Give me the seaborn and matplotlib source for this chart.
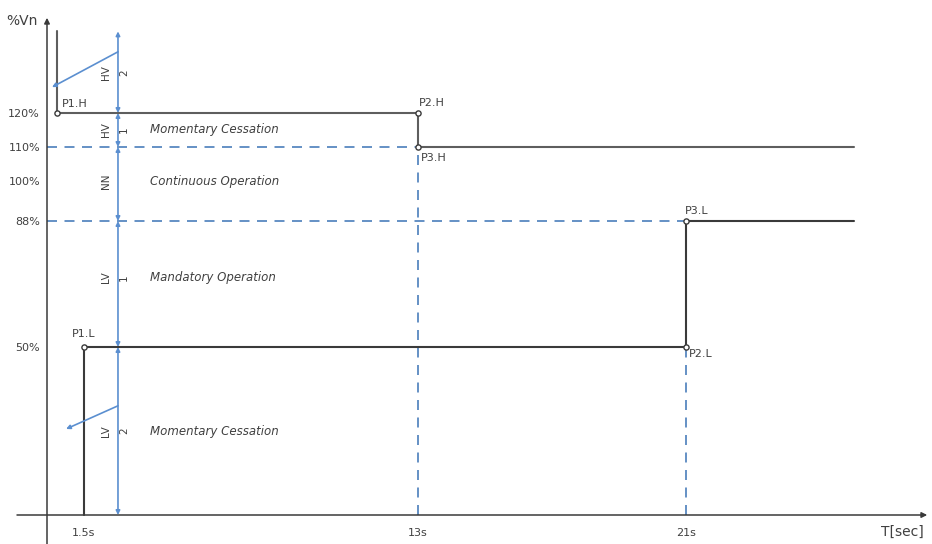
import numpy as np
import matplotlib
matplotlib.use('Agg')
import matplotlib.pyplot as plt
import seaborn as sns

# ---------------- data ----------------
TIME_TICKS = [1.5, 13, 21]
TIME_LABELS = ['1.5s', '13s', '21s']
V_TICKS = [120, 110, 100, 88, 50]
V_LABELS = ['120%', '110%', '100%', '88%', '50%']

HIGH_T = [0.16, 0.16, 13, 13, 26]
HIGH_V = [144, 120, 120, 110, 110]
LOW_T = [1.5, 1.5, 21, 21, 26]
LOW_V = [0, 50, 50, 88, 88]

POINT_NAMES = ['P1.H', 'P2.H', 'P3.H', 'P1.L', 'P2.L', 'P3.L']
POINT_T = [0.16, 13, 13, 1.5, 21, 21]
POINT_V = [120, 120, 110, 50, 50, 88]

GUIDE_LEVELS = [110, 88]
GUIDE_LEVEL_ENDS = [14, 21]
GUIDE_TIMES = [13, 21]
GUIDE_TIME_TOPS = [110, 50]

BAND_EDGES = [0, 50, 88, 110, 120, 144]
BAND_CODES = ['LV', 'LV', 'NN', 'HV', 'HV']
BAND_NUMS = ['2', '1', '', '1', '2']
BAND_LABEL_V = [25, 71, 100, 115, 132]
ZONE_TEXT = ['Momentary Cessation', 'Mandatory Operation',
             'Continuous Operation', 'Momentary Cessation', '']

DIAG_FROM_T = [2.67, 2.67]
DIAG_FROM_V = [138, 32.5]
DIAG_TO_T = [0.08, 0.61]
DIAG_TO_V = [127.6, 25.6]

# ---------------- layout ----------------
X_KNOTS = [0, 0.16, 1.5, 13, 21]
X_PIX = [47, 57, 84, 418, 686]
Y_KNOTS = [0, 50, 88, 100, 110, 120]
Y_PIX = [515, 347, 221, 181, 147, 113]
W, H = 932, 544
BAND_T = 2.67
YAXIS_TOP, YAXIS_BOTTOM = 148, -9
XAXIS_LEFT, XAXIS_RIGHT = -0.48, 28.2
POINT_OFFSETS = [(5, 9), (1, 10), (3, -11), (-12, 13), (3, -7), (-1, 10)]

HIGH_COLOR = '#5e5e5e'
LOW_COLOR = '#3a3a3a'
AXIS_COLOR = '#3a3a3a'
TEXT = '#404040'
BLUE_DASH = '#4a7ebb'
BLUE = '#5b8fd0'


def piecewise(knots, pix):
    k = np.asarray(knots, float)
    p = np.asarray(pix, float)
    s0 = (p[1] - p[0]) / (k[1] - k[0])
    s1 = (p[-1] - p[-2]) / (k[-1] - k[-2])

    def fwd(v):
        v = np.asarray(v, float)
        out = np.interp(v, k, p)
        out = np.where(v < k[0], p[0] + (v - k[0]) * s0, out)
        out = np.where(v > k[-1], p[-1] + (v - k[-1]) * s1, out)
        return out

    def inv(u):
        u = np.asarray(u, float)
        out = np.interp(u, p, k)
        out = np.where(u < p[0], k[0] + (u - p[0]) / s0, out)
        out = np.where(u > p[-1], k[-1] + (u - p[-1]) / s1, out)
        return out
    return fwd, inv


sns.set_theme(style='white')
plt.rcParams['font.family'] = ['DejaVu Sans']

fig = plt.figure(figsize=(W / 100, H / 100), dpi=100)
ax = fig.add_axes([0, 0, 1, 1])

# dashed guides
for lv, te in zip(GUIDE_LEVELS, GUIDE_LEVEL_ENDS):
    ax.plot([0, te], [lv, lv], color=BLUE_DASH, lw=1.2, ls=(0, (6, 4.5)),
            zorder=1)
for t, vt in zip(GUIDE_TIMES, GUIDE_TIME_TOPS):
    ax.plot([t, t], [0, vt], color=BLUE_DASH, lw=1.2, ls=(0, (6, 4.5)),
            zorder=1)

# limit curves
sns.lineplot(x=HIGH_T, y=HIGH_V, sort=False, estimator=None,
             color=HIGH_COLOR, lw=1.5, ax=ax, zorder=3)
sns.lineplot(x=LOW_T, y=LOW_V, sort=False, estimator=None,
             color=LOW_COLOR, lw=1.5, ax=ax, zorder=3)

# scales (schematic, piecewise linear)
xf, xi = piecewise(X_KNOTS, X_PIX)
yf, yi = piecewise(Y_KNOTS, [H - p for p in Y_PIX])
ax.set_xscale('function', functions=(xf, xi))
ax.set_yscale('function', functions=(yf, yi))
ax.set_xlim(float(xi(0)), float(xi(W)))
ax.set_ylim(float(yi(0)), float(yi(H)))

# points
sns.scatterplot(x=POINT_T, y=POINT_V, marker='o', s=14, color='white',
                edgecolor=LOW_COLOR, linewidth=1.0, zorder=5, ax=ax)
for name, t, v, off in zip(POINT_NAMES, POINT_T, POINT_V, POINT_OFFSETS):
    ax.annotate(name, xy=(t, v), xytext=off, textcoords='offset pixels',
                ha='left', va='center', fontsize=8, color=TEXT)

# band dimension arrows
for lo, hi in zip(BAND_EDGES[:-1], BAND_EDGES[1:]):
    ax.annotate('', xy=(BAND_T, hi), xytext=(BAND_T, lo),
                arrowprops=dict(arrowstyle='<|-|>', color=BLUE, lw=1.2,
                                mutation_scale=6, shrinkA=0, shrinkB=0))
for code, num, v, zt in zip(BAND_CODES, BAND_NUMS, BAND_LABEL_V, ZONE_TEXT):
    ax.annotate(code, xy=(BAND_T, v), xytext=(-12, 0),
                textcoords='offset pixels', rotation=90, ha='center',
                va='center', fontsize=7.5, color=TEXT)
    if num:
        ax.annotate(num, xy=(BAND_T, v), xytext=(6, 0),
                    textcoords='offset pixels', rotation=90, ha='center',
                    va='center', fontsize=7.5, color=TEXT)
    if zt:
        ax.annotate(zt, xy=(BAND_T, v), xytext=(32, 0),
                    textcoords='offset pixels', ha='left', va='center',
                    fontsize=8.5, style='italic', color=TEXT)

# diagonal direction arrows
for t0, v0, t1, v1 in zip(DIAG_FROM_T, DIAG_FROM_V, DIAG_TO_T, DIAG_TO_V):
    ax.annotate('', xy=(t1, v1), xytext=(t0, v0),
                arrowprops=dict(arrowstyle='-|>', color=BLUE, lw=1.2,
                                mutation_scale=6, shrinkA=0, shrinkB=0))

# axes with arrows
ax.annotate('', xy=(0, YAXIS_TOP), xytext=(0, YAXIS_BOTTOM),
            arrowprops=dict(arrowstyle='-|>', color=AXIS_COLOR, lw=1.1,
                            mutation_scale=8, shrinkA=0, shrinkB=0),
            annotation_clip=False)
ax.annotate('', xy=(XAXIS_RIGHT, 0), xytext=(XAXIS_LEFT, 0),
            arrowprops=dict(arrowstyle='-|>', color=AXIS_COLOR, lw=1.1,
                            mutation_scale=8, shrinkA=0, shrinkB=0),
            annotation_clip=False)
ax.annotate('%Vn', xy=(0, YAXIS_TOP), xytext=(-25, -3),
            textcoords='offset pixels', ha='center', va='center',
            fontsize=10, color=TEXT)
ax.annotate('T[sec]', xy=(XAXIS_RIGHT, 0), xytext=(-25, -17),
            textcoords='offset pixels', ha='center', va='center',
            fontsize=10, color=TEXT)

# ticks
for s in ax.spines.values():
    s.set_visible(False)
ax.spines['left'].set_position(('data', 0))
ax.spines['bottom'].set_position(('data', 0))
ax.set_xticks(TIME_TICKS, TIME_LABELS)
ax.set_yticks(V_TICKS, V_LABELS)
ax.tick_params(axis='x', length=0, pad=9, labelsize=8, labelcolor=TEXT)
ax.tick_params(axis='y', length=0, pad=5, labelsize=8, labelcolor=TEXT)
ax.set_xlabel('')
ax.set_ylabel('')
ax.grid(False)
ax.set_facecolor('white')
fig.patch.set_facecolor('white')

fig.savefig('out.png', dpi=100)
